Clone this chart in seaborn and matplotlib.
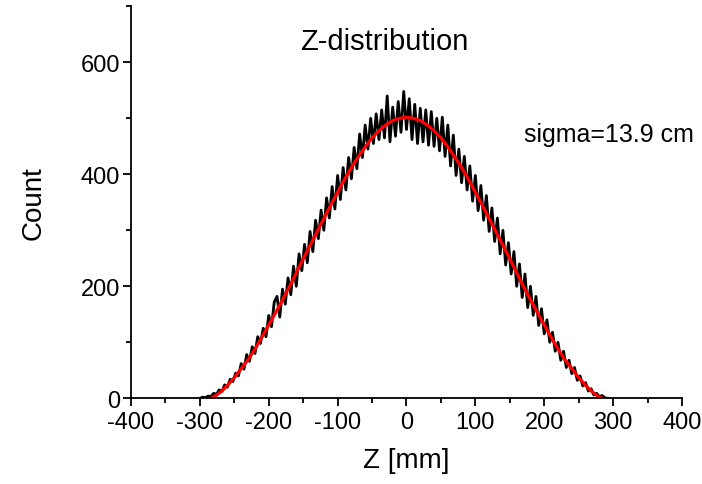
import numpy as np
import pandas as pd
import matplotlib
matplotlib.use("Agg")
import matplotlib.pyplot as plt
import seaborn as sns

# ---- data ----
z_mm = list(range(-300, 293, 4))
counts = [
    0, 2, 1, 4, 3, 9, 7, 15, 12, 24,
    20, 34, 30, 45, 40, 62, 52, 78, 66, 92,
    80, 110, 98, 125, 110, 148, 128, 172, 182, 145,
    195, 168, 215, 185, 236, 200, 258, 228, 275, 242,
    298, 262, 318, 285, 336, 300, 358, 322, 378, 338,
    398, 355, 412, 372, 430, 392, 448, 410, 472, 430,
    488, 445, 500, 455, 508, 462, 515, 465, 540, 458,
    520, 468, 530, 475, 548, 480, 535, 462, 525, 455,
    518, 458, 515, 452, 512, 450, 500, 442, 502, 432,
    488, 415, 470, 398, 445, 385, 432, 372, 415, 352,
    398, 335, 380, 318, 362, 298, 340, 280, 322, 258,
    300, 238, 278, 222, 262, 200, 240, 180, 222, 162,
    200, 148, 182, 130, 160, 115, 140, 100, 118, 84,
    100, 68, 84, 55, 68, 44, 55, 32, 40, 22,
    28, 13, 17, 6, 9, 3, 5, 1, 0,
]

fit_z = [-285, -280, -270, -260, -250, -240, -230, -220, -210, -200, -190, -180,
         -170, -160, -150, -140, -130, -120, -110, -100, -90, -80, -70, -60, -50,
         -40, -30, -20, -10, 0, 10, 20, 30, 40, 50, 60, 70, 80, 90, 100, 110, 120,
         130, 140, 150, 160, 170, 180, 190, 200, 210, 220, 230, 240, 250, 260, 270,
         280, 285]
fit_counts = [0, 2, 11, 23, 37, 53, 69, 88, 109, 131, 153, 176, 199, 224, 249,
              273, 297, 321, 345, 368, 391, 412, 431, 449, 465, 478, 488, 496, 500,
              502, 500, 496, 488, 478, 465, 449, 431, 412, 391, 368, 345, 321, 297,
              273, 249, 224, 199, 176, 153, 131, 109, 88, 69, 53, 37, 23, 11, 2, 0]

x_ticks = [-400, -300, -200, -100, 0, 100, 200, 300, 400]
y_ticks = [0, 200, 400, 600]

title_text = "Z-distribution"
sigma_text = "sigma=13.9 cm"
x_label = "Z [mm]"
y_label = "Count"

df_hist = pd.DataFrame({"z": z_mm, "count": counts})
df_fit = pd.DataFrame({"z": fit_z, "count": fit_counts})

sns.set_style("ticks")
plt.rcParams["font.family"] = ["Liberation Sans", "DejaVu Sans"]
plt.rcParams["text.color"] = "black"
plt.rcParams["axes.labelcolor"] = "black"
plt.rcParams["xtick.color"] = "black"
plt.rcParams["ytick.color"] = "black"

fig = plt.figure(figsize=(7.02, 4.85), dpi=100)
ax = fig.add_axes([0.1866, 0.1767, 0.7849, 0.8082])

sns.lineplot(data=df_hist, x="z", y="count", ax=ax, color="black", linewidth=2.0,
             estimator=None, sort=False)
sns.lineplot(data=df_fit, x="z", y="count", ax=ax, color="#ff0000", linewidth=2.3,
             estimator=None, sort=False)

ax.set_xlim(-400, 400)
ax.set_ylim(0, 700)
ax.set_xticks(x_ticks)
ax.set_yticks(y_ticks)
ax.set_xticks(np.arange(-350, 400, 100), minor=True)
ax.set_yticks([100, 300, 500, 700], minor=True)
ax.set_xticklabels([str(t) for t in x_ticks], fontsize=17)
ax.set_yticklabels([str(t) for t in y_ticks], fontsize=17)

ax.tick_params(axis="x", which="major", direction="out", length=6, width=1.3,
               colors="black", pad=3)
ax.tick_params(axis="y", which="major", direction="out", length=6, width=1.3,
               colors="black", pad=2)
ax.tick_params(axis="both", which="minor", direction="out", length=3.5, width=1.3,
               colors="black")

sns.despine(ax=ax)
for s in ["left", "bottom"]:
    ax.spines[s].set_linewidth(1.3)
    ax.spines[s].set_color("black")

ax.set_xlabel(x_label, fontsize=20, labelpad=10)
ax.set_ylabel(y_label, fontsize=20, labelpad=24)

ax.text(-154, 638, title_text, fontsize=21, ha="left", va="center")
ax.text(170, 472, sigma_text, fontsize=18, ha="left", va="center")

fig.savefig("out.png", dpi=100)
